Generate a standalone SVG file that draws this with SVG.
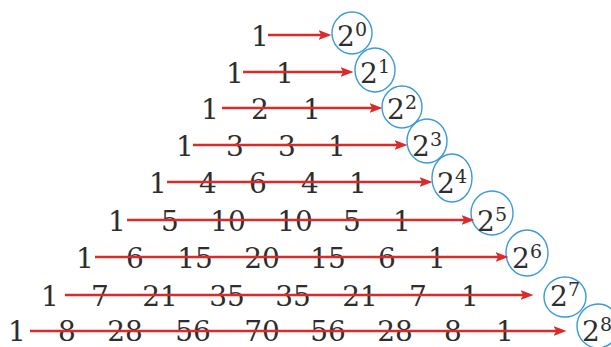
<svg xmlns="http://www.w3.org/2000/svg" width="611" height="347" viewBox="0 0 611 347">
<style>
.n{font-family:"DejaVu Serif",serif;font-size:28px;fill:#2e2e2e;text-anchor:middle}
.s{font-family:"DejaVu Serif",serif;font-size:19px;fill:#2e2e2e;text-anchor:middle}
.c{fill:none;stroke:#3b9ad8;stroke-width:1.4}
.a{stroke:#dc2a2a;stroke-width:2.6;fill:none;marker-end:url(#ah)}
</style>
<defs>
<marker id="ah" markerUnits="userSpaceOnUse" viewBox="0 0 12 10" markerWidth="13" markerHeight="11" refX="6" refY="5" orient="auto">
<path d="M0,0.5 L12,5 L0,9.5 L2.5,5 Z" fill="#dc2a2a"/>
</marker>
</defs>
<rect width="611" height="347" fill="#fff"/>
<g id="rows">
<g id="row0"><text class="n" x="260" y="46">1</text></g>
<g id="row1"><text class="n" x="235" y="83">1</text><text class="n" x="285" y="83">1</text></g>
<g id="row2"><text class="n" x="210" y="119">1</text><text class="n" x="260" y="119">2</text><text class="n" x="312" y="119">1</text></g>
<g id="row3"><text class="n" x="185" y="156">1</text><text class="n" x="235" y="156">3</text><text class="n" x="287" y="156">3</text><text class="n" x="337" y="156">1</text></g>
<g id="row4"><text class="n" x="158" y="193">1</text><text class="n" x="208" y="193">4</text><text class="n" x="258" y="193">6</text><text class="n" x="310" y="193">4</text><text class="n" x="358" y="193">1</text></g>
<g id="row5"><text class="n" x="117" y="231">1</text><text class="n" x="170" y="231">5</text><text class="n" x="228" y="231">10</text><text class="n" x="295" y="231">10</text><text class="n" x="352" y="231">5</text><text class="n" x="402" y="231">1</text></g>
<g id="row6"><text class="n" x="85" y="268">1</text><text class="n" x="135" y="268">6</text><text class="n" x="195" y="268">15</text><text class="n" x="262" y="268">20</text><text class="n" x="328" y="268">15</text><text class="n" x="387" y="268">6</text><text class="n" x="437" y="268">1</text></g>
<g id="row7"><text class="n" x="50" y="306">1</text><text class="n" x="100" y="306">7</text><text class="n" x="160" y="306">21</text><text class="n" x="227" y="306">35</text><text class="n" x="293" y="306">35</text><text class="n" x="360" y="306">21</text><text class="n" x="418" y="306">7</text><text class="n" x="470" y="306">1</text></g>
<g id="row8"><text class="n" x="17" y="341">1</text><text class="n" x="67" y="341">8</text><text class="n" x="125" y="341">28</text><text class="n" x="193" y="341">56</text><text class="n" x="262" y="341">70</text><text class="n" x="328" y="341">56</text><text class="n" x="395" y="341">28</text><text class="n" x="453" y="341">8</text><text class="n" x="505" y="341">1</text></g>
</g>
<g id="p0"><ellipse class="c" cx="352" cy="33" rx="20" ry="21"/><text class="n" x="346" y="46">2</text><text class="s" x="361" y="36">0</text></g>
<g id="p1"><ellipse class="c" cx="375" cy="70" rx="20" ry="22"/><text class="n" x="369" y="83">2</text><text class="s" x="384" y="73">1</text></g>
<g id="p2"><ellipse class="c" cx="402" cy="107" rx="20" ry="21"/><text class="n" x="396" y="119">2</text><text class="s" x="411" y="109">2</text></g>
<g id="p3"><ellipse class="c" cx="427" cy="141" rx="20" ry="22"/><text class="n" x="421" y="156">2</text><text class="s" x="436" y="146">3</text></g>
<g id="p4"><ellipse class="c" cx="452" cy="178" rx="20" ry="24"/><text class="n" x="446" y="193">2</text><text class="s" x="461" y="183">4</text></g>
<g id="p5"><ellipse class="c" cx="492" cy="213" rx="21" ry="22"/><text class="n" x="486" y="231">2</text><text class="s" x="501" y="221">5</text></g>
<g id="p6"><ellipse class="c" cx="527" cy="253" rx="21" ry="23"/><text class="n" x="521" y="268">2</text><text class="s" x="536" y="258">6</text></g>
<g id="p7"><ellipse class="c" cx="565" cy="297" rx="21" ry="20"/><text class="n" x="559" y="306">2</text><text class="s" x="574" y="296">7</text></g>
<g id="p8"><ellipse class="c" cx="598" cy="326" rx="21" ry="22"/><text class="n" x="591" y="341">2</text><text class="s" x="606" y="331">8</text></g>
<g id="connectors">
<line class="a" x1="268" y1="35" x2="325" y2="35"/>
<line class="a" x1="243" y1="72" x2="347" y2="72"/>
<line class="a" x1="222" y1="108" x2="376" y2="108"/>
<line class="a" x1="193" y1="145" x2="401" y2="145"/>
<line class="a" x1="167" y1="182" x2="426" y2="182"/>
<line class="a" x1="127" y1="220" x2="468" y2="220"/>
<line class="a" x1="95" y1="257" x2="502" y2="257"/>
<line class="a" x1="65" y1="295" x2="527" y2="295"/>
<line class="a" x1="30" y1="331" x2="560" y2="331"/>
</g>
</svg>
